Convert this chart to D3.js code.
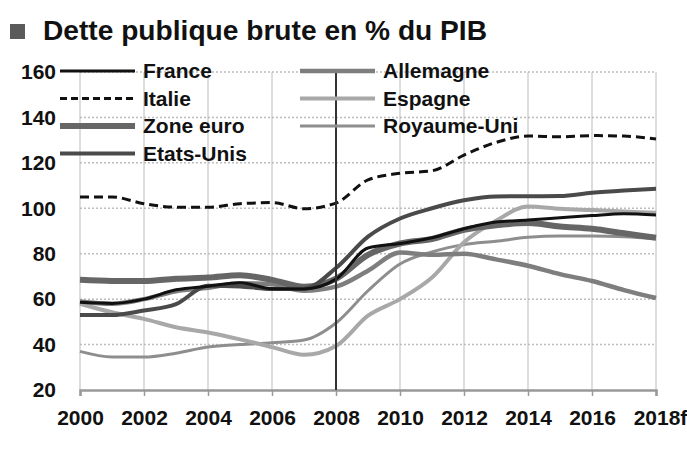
<!DOCTYPE html>
<html>
<head>
<meta charset="utf-8">
<script src="https://cdn.jsdelivr.net/npm/d3@7"></script>
<style>
  body { margin: 0; background: #fff; }
  text { font-family: "Liberation Sans", Arial, sans-serif; font-weight: bold; fill: #111; }
</style>
</head>
<body>
<div id="chart"></div>
<script>
// Data (% du PIB).
const years = d3.range(2000, 2019);
const tickYears = [2000, 2002, 2004, 2006, 2008, 2010, 2012, 2014, 2016, 2018];
const tickLabels = ["2000", "2002", "2004", "2006", "2008", "2010", "2012", "2014", "2016", "2018f"];
const yTicks = [20, 40, 60, 80, 100, 120, 140, 160];

const france     = [58.6, 58.1, 60.0, 64.1, 65.7, 67.2, 64.6, 64.5, 68.8, 82.5, 84.5, 87.0, 91.0, 94.0, 94.8, 95.8, 96.8, 97.6, 97.0];
const italie     = [105.0, 105.0, 102.0, 100.5, 100.5, 102.0, 102.5, 99.8, 102.3, 112.5, 115.4, 116.5, 123.4, 129.0, 131.8, 131.5, 132.0, 131.8, 130.5];
const zoneEuro   = [68.5, 68.0, 68.0, 69.0, 69.5, 70.5, 68.5, 65.5, 69.0, 79.5, 84.5, 86.5, 90.5, 92.5, 93.5, 92.0, 91.0, 89.0, 87.0];
const etatsUnis  = [53.0, 53.0, 55.0, 57.8, 65.9, 65.6, 64.5, 64.6, 73.7, 87.5, 95.5, 100.0, 103.5, 105.2, 105.3, 105.4, 106.8, 107.8, 108.6];
const allemagne  = [59.0, 58.0, 60.0, 63.5, 65.0, 67.0, 66.5, 63.7, 65.5, 72.5, 80.5, 79.5, 80.0, 77.5, 74.7, 71.0, 68.0, 64.0, 60.5];
const espagne    = [58.0, 54.2, 51.3, 47.6, 45.3, 42.3, 38.9, 35.5, 39.4, 52.7, 60.0, 69.5, 85.0, 94.5, 100.8, 99.8, 99.2, 98.6, 98.0];
const royaumeUni = [37.0, 34.5, 34.5, 36.2, 38.9, 40.0, 40.8, 42.0, 49.5, 63.7, 75.5, 80.8, 84.0, 85.5, 87.2, 87.8, 87.8, 87.5, 86.6];

// Series styles (drawing order: first is below).
const Series = [
    { name: "Royaume-Uni", values: royaumeUni, color: "#8e8e8e", width: 3 },
    { name: "Espagne", values: espagne, color: "#a8a8a8", width: 4 },
    { name: "Allemagne", values: allemagne, color: "#7e7e7e", width: 4.5 },
    { name: "Zone euro", values: zoneEuro, color: "#666", width: 6 },
    { name: "Etats-Unis", values: etatsUnis, color: "#4a4a4a", width: 4 },
    { name: "France", values: france, color: "#111", width: 3 },
    { name: "Italie", values: italie, color: "#111", width: 3, dash: "9,5" },
];

const W = 687, H = 452;
const Margin = { top: 72, right: 31, bottom: 62, left: 80 };

const x = d3.scaleLinear().domain([2000, 2018]).range([Margin.left, W - Margin.right]);
const y = d3.scaleLinear().domain([20, 160]).range([H - Margin.bottom, Margin.top]);

const svg = d3.select("#chart")
    .append("svg")
        .attr("width", W)
        .attr("height", H);

const printTitle = () => {
    svg.append("rect")
        .attr("x", 10).attr("y", 24)
        .attr("width", 15).attr("height", 15)
        .attr("fill", "#5a5a5a");
    svg.append("text")
        .attr("x", 43).attr("y", 40)
        .attr("textLength", 444)
        .attr("lengthAdjust", "spacingAndGlyphs")
        .style("font-size", "28px")
        .text("Dette publique brute en % du PIB");
}

const printGrid = () => {
    // Vertical solid grid.
    svg.append("g")
        .selectAll("line")
        .data(tickYears)
        .join("line")
            .attr("x1", d => x(d)).attr("x2", d => x(d))
            .attr("y1", y(160)).attr("y2", y(20))
            .attr("stroke", "#d2d2d2")
            .attr("stroke-width", 1.5);
    // Horizontal dotted grid.
    svg.append("g")
        .selectAll("line")
        .data(yTicks.filter(d => d > 20))
        .join("line")
            .attr("x1", x(2000)).attr("x2", x(2018))
            .attr("y1", d => y(d)).attr("y2", d => y(d))
            .attr("stroke", "#bdbdbd")
            .attr("stroke-width", 1.5)
            .style("stroke-dasharray", "2,2");
}

const printAxes = () => {
    const xAxis = d3.axisBottom(x)
        .tickValues(tickYears)
        .tickSize(6)
        .tickPadding(10)
        .tickFormat((d, i) => tickLabels[i]);
    const gx = svg.append("g")
        .attr("transform", `translate(0,${y(20)})`)
        .call(xAxis);
    gx.select(".domain").attr("stroke", "#999").attr("stroke-width", 2.5);
    gx.selectAll(".tick line").attr("stroke", "#999").attr("stroke-width", 1.5);
    gx.selectAll(".tick text")
        .style("font-size", "21px")
        .attr("dy", "0.9em")
        .attr("dx", (d, i) => i === tickLabels.length - 1 ? 4 : 0);

    const yAxis = d3.axisLeft(y)
        .tickValues(yTicks)
        .tickSize(0)
        .tickPadding(24);
    const gy = svg.append("g")
        .attr("transform", `translate(${x(2000)},0)`)
        .call(yAxis);
    gy.select(".domain").remove();
    gy.selectAll(".tick text").style("font-size", "21px");
}

const printLines = () => {
    const line = d3.line()
        .x((d, i) => x(years[i]))
        .y(d => y(d))
        .curve(d3.curveMonotoneX);
    svg.append("g")
        .selectAll("path")
        .data(Series)
        .join("path")
            .attr("d", d => line(d.values))
            .attr("fill", "none")
            .attr("stroke", d => d.color)
            .attr("stroke-width", d => d.width)
            .attr("stroke-linejoin", "round")
            .style("stroke-dasharray", d => d.dash || null);
    // 2008 crisis marker.
    svg.append("line")
        .attr("x1", x(2008)).attr("x2", x(2008))
        .attr("y1", y(160)).attr("y2", y(20))
        .attr("stroke", "#333")
        .attr("stroke-width", 2);
}

const printLegend = () => {
    const byName = name => Series.find(s => s.name === name);
    const entries = [
        { name: "France", col: 0, row: 0 },
        { name: "Italie", col: 0, row: 1 },
        { name: "Zone euro", col: 0, row: 2 },
        { name: "Etats-Unis", col: 0, row: 3 },
        { name: "Allemagne", col: 1, row: 0 },
        { name: "Espagne", col: 1, row: 1 },
        { name: "Royaume-Uni", col: 1, row: 2 },
    ];
    const colX = [60, 300];
    const rowY = r => 71 + r * 27.5;
    const g = svg.append("g");
    g.selectAll("line")
        .data(entries)
        .join("line")
            .attr("x1", d => colX[d.col]).attr("x2", d => colX[d.col] + 75)
            .attr("y1", d => rowY(d.row)).attr("y2", d => rowY(d.row))
            .attr("stroke", d => byName(d.name).color)
            .attr("stroke-width", d => byName(d.name).width)
            .style("stroke-dasharray", d => byName(d.name).dash ? "7,4" : null);
    g.selectAll("text")
        .data(entries)
        .join("text")
            .attr("x", d => colX[d.col] + 83)
            .attr("y", d => rowY(d.row) + 7)
            .style("font-size", "21px")
            .text(d => d.name);
}

printTitle();
printGrid();
printAxes();
printLines();
printLegend();
</script>
</body>
</html>
